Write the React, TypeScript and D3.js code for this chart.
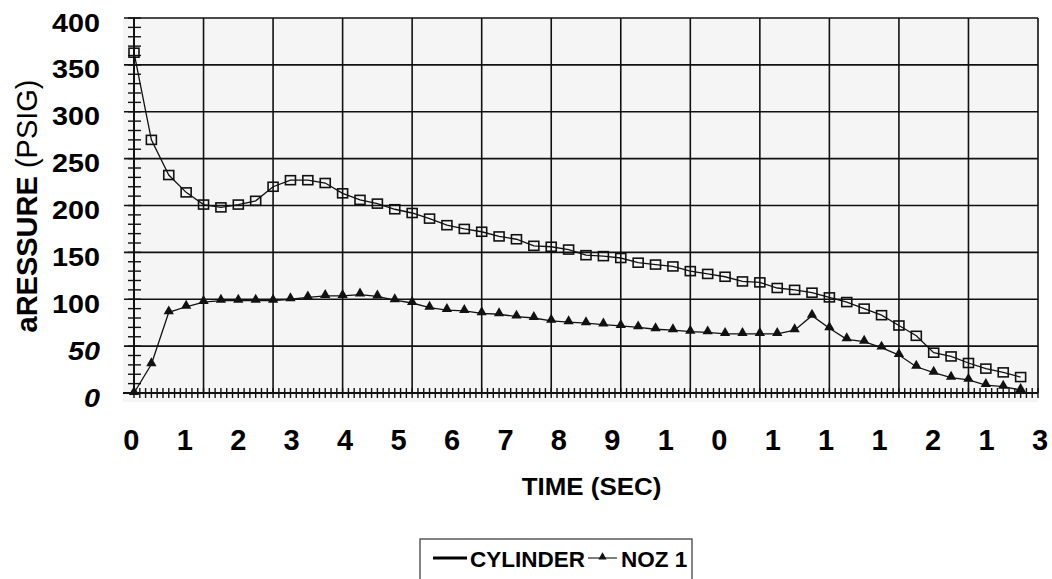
import React from "react";
import * as d3 from "d3";

const cylinder: number[] = [
  363, 270, 232.5, 214, 201, 198, 201, 205, 220, 227, 227, 224, 213, 206, 202, 196,
  192, 186, 179, 175, 172, 167, 164, 157, 156, 153, 147, 146, 144, 139, 137, 135,
  130, 127, 124, 119, 118, 112, 110, 107, 102, 97, 90, 83, 72, 61, 43, 39, 32, 26, 22, 17,
];
const noz1: number[] = [
  0, 30.6, 86, 92, 97, 98.5, 98.5, 98.5, 98.5, 100, 102, 103.5, 103.5, 105, 103, 99,
  96, 91, 88.5, 87.5, 85, 84, 81.5, 80, 77, 75.5, 74.5, 73, 71.5, 70, 68, 67,
  65.4, 64.7, 63, 63, 63, 63, 67, 82.5, 69, 57.3, 54.7, 48.4, 40.5, 28, 21.7, 16.3, 14, 8.5, 6.7, 3.2,
];
const xTickLabels: string[] = ["0", "1", "2", "3", "4", "5", "6", "7", "8", "9", "1", "0", "1", "1", "1", "2", "1", "3"];
const yTickValues: number[] = [0, 50, 100, 150, 200, 250, 300, 350, 400];
const italicYTicks: number[] = [0, 50];

const W = 1052;
const H = 579;
const FONT = "'Liberation Sans', Arial, Helvetica, sans-serif";

export default function App() {
  const x = d3.scaleLinear().domain([0, 52]).range([134, 1038]);
  const y = d3.scaleLinear().domain([0, 400]).range([393, 18]);
  const labelX = d3.scalePoint<number>().domain(d3.range(xTickLabels.length)).range([131.3, 1040]);

  const line = d3
    .line<number>()
    .x((_, i) => x(i))
    .y((d) => y(d));

  const vGrid = d3.range(0, 53, 4);
  const xMinor = d3.range(0, 52 * 3 + 1).map((k) => k / 3);
  const yMinor = d3.range(0, 401, 10);
  const tri = d3.symbol().type(d3.symbolTriangle).size(46)();

  return (
    <svg
      width={W}
      height={H}
      style={{ position: "absolute", left: 0, top: 0, background: "#fff" }}
      fontFamily={FONT}
    >
      {/* plot background */}
      <rect x={123} y={18} width={1038 - 123} height={402 - 18} fill="#f5f5f5" />

      {/* horizontal grid */}
      {yTickValues.map((v) => (
        <line key={"hg" + v} x1={124} x2={1038} y1={y(v)} y2={y(v)} stroke="#111" strokeWidth={1.6} />
      ))}
      {/* vertical grid */}
      {vGrid.map((g) => (
        <line key={"vg" + g} x1={x(g)} x2={x(g)} y1={18} y2={y(0)} stroke="#111" strokeWidth={1.6} />
      ))}

      {/* y minor ticks */}
      {yMinor.map((v) => (
        <line key={"ym" + v} x1={128} x2={141} y1={y(v)} y2={y(v)} stroke="#111" strokeWidth={1.4} />
      ))}
      {/* x minor ticks */}
      {xMinor.map((t, k) => (
        <line key={"xm" + k} x1={x(t)} x2={x(t)} y1={y(0) - 5} y2={y(0) + 5} stroke="#111" strokeWidth={1.4} />
      ))}
      <line x1={123} x2={1038} y1={y(0)} y2={y(0)} stroke="#111" strokeWidth={2} />
      <line x1={x(0)} x2={x(0)} y1={18} y2={y(0)} stroke="#111" strokeWidth={2} />

      {/* series lines */}
      <path d={line(cylinder) || ""} fill="none" stroke="#111" strokeWidth={1.3} />
      <path d={line(noz1) || ""} fill="none" stroke="#111" strokeWidth={1.3} />

      {/* cylinder markers: hollow squares */}
      {cylinder.map((v, i) => (
        <rect
          key={"sq" + i}
          x={x(i) - 5}
          y={y(v) - 4.5}
          width={10}
          height={9}
          fill="none"
          stroke="#111"
          strokeWidth={1.6}
        />
      ))}
      {/* noz markers: filled triangles */}
      {noz1.map((v, i) => (
        <path key={"tr" + i} d={tri || ""} transform={`translate(${x(i)},${y(v) - 1})`} fill="#111" />
      ))}

      {/* y tick labels */}
      {yTickValues.map((v) => (
        <text
          key={"yl" + v}
          transform={`translate(100,${y(v) + 13.5}) scale(1.15,1)`}
          textAnchor="end"
          fontSize={25}
          fontWeight="bold"
          fontStyle={italicYTicks.includes(v) ? "italic" : "normal"}
          fill="#000"
        >
          {v}
        </text>
      ))}

      {/* x tick labels */}
      {xTickLabels.map((t, k) => (
        <text
          key={"xl" + k}
          x={labelX(k)}
          y={450}
          textAnchor="middle"
          fontSize={29}
          fontWeight="bold"
          fill="#000"
        >
          {t}
        </text>
      ))}

      {/* axis titles */}
      <text
        transform="translate(591.5,495) scale(1.08,1)"
        textAnchor="middle"
        fontSize={24}
        fontWeight="bold"
        fill="#000"
      >
        TIME (SEC)
      </text>
      <text
        transform="translate(37,206) rotate(-90)"
        textAnchor="middle"
        fontSize={29}
        fill="#000"
      >
        <tspan fontWeight="bold">aRESSURE</tspan>
        <tspan> (PSIG)</tspan>
      </text>

      {/* legend */}
      <rect x={420} y={539} width={272} height={50} fill="#fff" stroke="#333" strokeWidth={1.2} />
      <line x1={433} x2={467} y1={558} y2={558} stroke="#000" strokeWidth={3} />
      <text x={470} y={567} fontSize={22.5} fontWeight="bold" fill="#000">
        CYLINDER
      </text>
      <line x1={588} x2={617} y1={558} y2={558} stroke="#555" strokeWidth={1.5} />
      <path d={tri || ""} transform="translate(602.5,557) scale(0.8)" fill="#111" />
      <text x={621} y={567} fontSize={22.5} fontWeight="bold" fill="#000">
        NOZ 1
      </text>
    </svg>
  );
}
